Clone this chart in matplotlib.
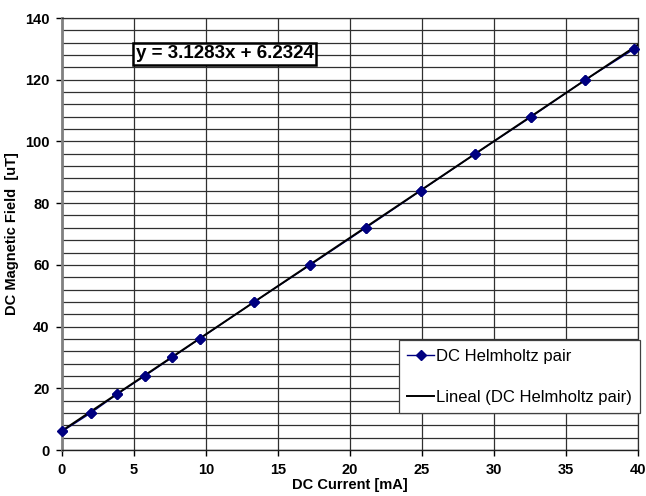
import numpy as np
import matplotlib.pyplot as plt
from matplotlib.ticker import MultipleLocator

plt.rcParams.update({
    "font.family": ["Liberation Sans", "DejaVu Sans"],
    "font.size": 10})

current_ma = [0.0, 2.0, 3.8, 5.75, 7.65, 9.55, 13.35, 17.25, 21.1, 24.9, 28.7, 32.6, 36.35, 39.75]
field_ut = [6.0, 12.0, 18.0, 24.0, 30.0, 36.0, 48.0, 60.0, 72.0, 84.0, 96.0, 108.0, 120.0, 130.0]

# trendline from the chart's equation
slope = 3.1283
intercept = 6.2324
fit_x = [0.0, 40.0]


def plot(plot_file: str) -> None:
    fig = plt.figure(figsize=(6.46, 4.96), dpi=100)
    ax = fig.add_axes([62 / 646, 1 - 450 / 496, 576 / 646, 432 / 496])

    fx = np.array(fit_x)
    series, = ax.plot(current_ma, field_ut, color="#000080", lw=1.0,
                      marker="D", markersize=5.5, zorder=2,
                      label="DC Helmholtz pair")
    trend, = ax.plot(fx, slope * fx + intercept, color="black", lw=1.4,
                     zorder=3, label="Lineal (DC Helmholtz pair)")
    ax.plot(current_ma, field_ut, "D", color="#000080", markersize=5.5,
            zorder=4, clip_on=False)

    ax.set_xlim(0, 40)
    ax.set_ylim(0, 140)
    ax.xaxis.set_major_locator(MultipleLocator(5))
    ax.yaxis.set_major_locator(MultipleLocator(20))
    ax.yaxis.set_minor_locator(MultipleLocator(4))
    ax.grid(True, which="major", color="#303030", lw=0.9)
    ax.grid(True, which="minor", axis="y", color="#303030", lw=0.9)
    ax.tick_params(which="minor", length=0)
    ax.tick_params(which="major", length=4, width=1, direction="out", pad=5)
    for lab in ax.get_xticklabels() + ax.get_yticklabels():
        lab.set_fontweight("bold")
        lab.set_fontsize(10.5)

    for s in ["top", "right"]:
        ax.spines[s].set_color("#303030")
        ax.spines[s].set_linewidth(0.9)
    ax.spines["left"].set_color("#808080")
    ax.spines["left"].set_linewidth(2)
    ax.spines["bottom"].set_color("#202020")
    ax.spines["bottom"].set_linewidth(1)

    ax.set_xlabel("DC Current [mA]", fontweight="bold", fontsize=10.5, labelpad=1)
    ax.set_ylabel("DC Magnetic Field  [uT]", fontweight="bold", fontsize=10.5, labelpad=4)

    ax.text(0.128, 0.917, "y = 3.1283x + 6.2324", transform=ax.transAxes,
            fontsize=13.5, fontweight="bold", va="center", ha="left",
            bbox=dict(boxstyle="square,pad=0.12", fc="white", ec="black", lw=1.8),
            zorder=6)

    leg = ax.legend(handles=[series, trend], loc="lower right",
                    bbox_to_anchor=(1.003, 0.086), fontsize=12,
                    frameon=True, fancybox=False, framealpha=1,
                    edgecolor="#404040", labelspacing=1.55,
                    handlelength=1.6, handletextpad=0.1,
                    borderpad=0.5, borderaxespad=0)
    leg.get_frame().set_linewidth(0.9)
    leg.set_zorder(7)

    fig.savefig(plot_file, dpi=100)
    plt.close(fig)


if __name__ == "__main__":
    plot("out.png")
